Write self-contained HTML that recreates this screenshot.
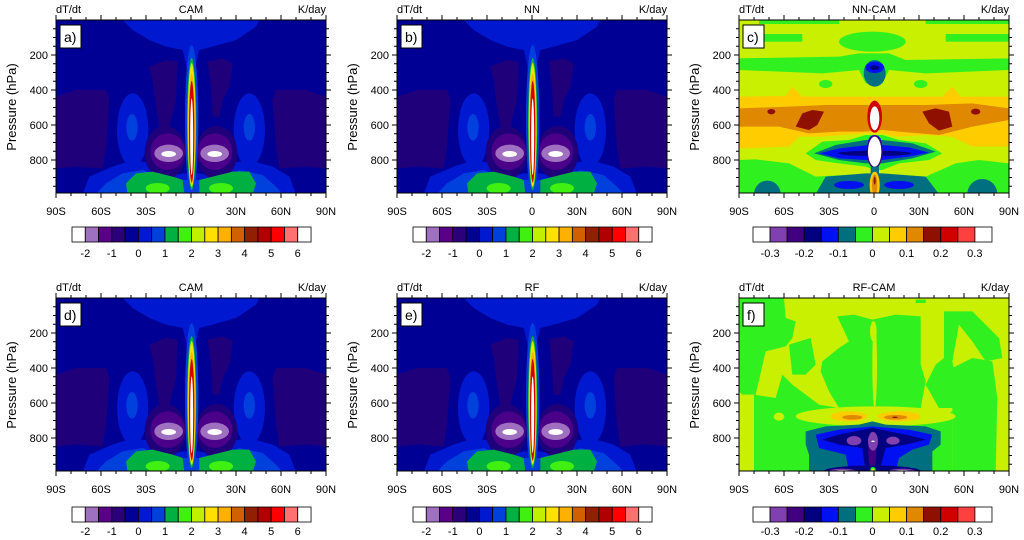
<!DOCTYPE html>
<html><head><meta charset="utf-8"><style>
html,body{margin:0;padding:0;background:#fff;}
svg{display:block;font-family:"Liberation Sans",sans-serif;}
</style></head><body>
<svg width="1024" height="540" viewBox="0 0 1024 540" xmlns="http://www.w3.org/2000/svg" xmlns:xlink="http://www.w3.org/1999/xlink">
<defs>
<clipPath id="cp"><rect x="0" y="0" width="810" height="519"/></clipPath>
<g id="cam" clip-path="url(#cp)">
 <rect x="0" y="0" width="810" height="522" fill="#000094"/>
 <path d="M200,0 L610,0 L600,20 L540,60 L470,80 L430,90 L420,130 L413,200 L397,200 L390,130 L380,90 L330,80 L280,60 L230,30Z" fill="#0018d0"/>
 <path d="M0,230 L60,210 L150,210 L160,240 L150,380 L140,445 L60,440 L0,445Z" fill="#20007a"/>
 <path d="M810,230 L750,210 L660,210 L650,240 L660,380 L670,445 L750,440 L810,445Z" fill="#20007a"/>
 <path d="M280,140 L330,120 L365,125 L360,240 L350,280 L340,320 L310,320 L300,260 L290,180Z" fill="#20007a"/>
 <path d="M455,125 L500,115 L530,130 L520,200 L500,240 L490,290 L470,290 L465,200Z" fill="#20007a"/>
 <ellipse cx="230" cy="330" rx="47" ry="110" fill="#0018d0"/>
 <ellipse cx="580" cy="330" rx="47" ry="110" fill="#0018d0"/>
 <ellipse cx="228" cy="322" rx="17" ry="40" fill="#0040dc"/>
 <ellipse cx="580" cy="322" rx="17" ry="40" fill="#0040dc"/>
 <path d="M80,522 L100,470 L170,440 L230,420 L290,430 L330,470 L380,460 L430,460 L480,470 L520,430 L580,420 L650,440 L700,470 L720,522Z" fill="#0018d0"/>
 <path d="M120,522 L150,490 L200,460 L260,450 L330,480 L380,480 L440,480 L480,480 L550,450 L620,465 L660,500 L680,522Z" fill="#0040dc"/>
 <ellipse cx="328" cy="398" rx="62" ry="80" fill="#20007a"/>
 <ellipse cx="482" cy="398" rx="62" ry="80" fill="#20007a"/>
 <ellipse cx="335" cy="395" rx="52" ry="55" fill="#4a0088"/>
 <ellipse cx="477" cy="395" rx="52" ry="55" fill="#4a0088"/>
 <ellipse cx="338" cy="400" rx="43" ry="26" fill="#a070c0"/>
 <ellipse cx="476" cy="400" rx="43" ry="26" fill="#a070c0"/>
 <ellipse cx="338" cy="402" rx="22" ry="9" fill="#fff"/>
 <ellipse cx="476" cy="402" rx="22" ry="9" fill="#fff"/>
 <path d="M210,490 L240,460 L290,455 L350,470 L380,480 L385,522 L215,522Z" fill="#00b040"/>
 <path d="M430,480 L470,470 L530,455 L580,455 L600,490 L590,522 L430,522Z" fill="#00b040"/>
 <ellipse cx="305" cy="505" rx="36" ry="16" fill="#40f010"/>
 <ellipse cx="495" cy="505" rx="36" ry="16" fill="#40f010"/>
 <ellipse cx="407" cy="300" rx="20" ry="225" fill="#0040dc"/>
 <ellipse cx="407" cy="312" rx="14" ry="198" fill="#00b040"/>
 <ellipse cx="407" cy="315" rx="12" ry="186" fill="#c0f000"/>
 <ellipse cx="407" cy="320" rx="10.5" ry="176" fill="#ffe000"/>
 <ellipse cx="407" cy="326" rx="9.5" ry="165" fill="#ffb000"/>
 <ellipse cx="407" cy="335" rx="8" ry="152" fill="#d00000"/>
 <ellipse cx="407" cy="350" rx="4.5" ry="115" fill="#fff"/>
</g>
<g id="nncam" clip-path="url(#cp)">
 <rect x="0" y="0" width="810" height="522" fill="#c8f000"/>
 <rect x="60" y="0" width="240" height="12" fill="#30f020"/>
 <rect x="560" y="0" width="250" height="12" fill="#30f020"/>
 <rect x="75" y="42" width="115" height="23" fill="#30f020"/>
 <rect x="620" y="42" width="190" height="23" fill="#30f020"/>
 <ellipse cx="400" cy="65" rx="100" ry="30" fill="#30f020"/>
 <path d="M0,115 L300,110 L360,100 L450,100 L500,120 L810,115 L810,150 L560,160 L450,150 L430,190 L380,190 L360,150 L250,160 L0,150Z" fill="#30f020"/>
 <ellipse cx="407" cy="160" rx="33" ry="40" fill="#007080"/>
 <ellipse cx="407" cy="142" rx="28" ry="17" fill="#0010f0"/>
 <ellipse cx="407" cy="143" rx="14" ry="7" fill="#000080"/>
 <ellipse cx="260" cy="192" rx="20" ry="12" fill="#30f020"/>
 <ellipse cx="545" cy="192" rx="20" ry="12" fill="#30f020"/>
 <path d="M0,230 L140,228 L160,200 L190,230 L390,230 L430,230 L610,230 L640,200 L665,230 L810,230 L810,380 L700,380 L640,350 L560,345 L470,350 L430,340 L380,340 L250,350 L180,350 L150,380 L0,385Z" fill="#ffcc00"/>
 <path d="M0,265 L150,260 L260,255 L390,255 L430,255 L560,255 L700,250 L810,265 L810,300 L700,320 L600,345 L480,335 L430,330 L380,335 L300,335 L210,340 L120,320 L0,320Z" fill="#e08800"/>
 <path d="M170,320 L190,280 L220,270 L255,275 L235,315 L210,330Z" fill="#901000"/>
 <path d="M550,275 L590,265 L630,275 L640,320 L600,332 L570,310Z" fill="#901000"/>
 <ellipse cx="97" cy="275" rx="12" ry="8" fill="#901000"/>
 <ellipse cx="710" cy="275" rx="14" ry="9" fill="#901000"/>
 <ellipse cx="407" cy="290" rx="22" ry="48" fill="#d00000"/>
 <ellipse cx="407" cy="295" rx="14" ry="36" fill="#fff"/>
 <path d="M200,400 L250,365 L330,360 L380,345 L430,345 L480,360 L560,370 L610,400 L570,420 L480,430 L430,450 L410,450 L380,440 L300,430 L230,420Z" fill="#30f020"/>
 <path d="M0,420 L50,418 L150,430 L230,470 L400,460 L560,470 L650,430 L720,420 L810,430 L810,522 L0,522Z" fill="#30f020"/>
 <path d="M225,400 L290,375 L380,360 L430,360 L520,370 L590,395 L520,415 L430,430 L380,430 L300,420Z" fill="#007080"/>
 <path d="M240,400 L300,385 L390,375 L430,375 L510,382 L570,398 L510,410 L430,420 L380,420 L300,415Z" fill="#0010f0"/>
 <ellipse cx="407" cy="400" rx="110" ry="8" fill="#000080"/>
 <ellipse cx="407" cy="365" rx="20" ry="20" fill="#0010f0"/>
 <ellipse cx="407" cy="395" rx="24" ry="50" fill="#400080"/>
 <ellipse cx="407" cy="395" rx="20" ry="45" fill="#fff"/>
 <rect x="395" y="440" width="25" height="30" fill="#007080"/>
 <path d="M230,522 L260,470 L380,460 L430,460 L560,470 L600,522Z" fill="#007080"/>
 <ellipse cx="330" cy="495" rx="45" ry="12" fill="#0010f0"/>
 <ellipse cx="480" cy="495" rx="45" ry="12" fill="#0010f0"/>
 <ellipse cx="85" cy="522" rx="40" ry="40" fill="#007080"/>
 <ellipse cx="730" cy="522" rx="45" ry="45" fill="#007080"/>
 <ellipse cx="407" cy="495" rx="15" ry="40" fill="#ffcc00"/>
 <ellipse cx="407" cy="495" rx="8" ry="32" fill="#e08800"/>
 <ellipse cx="407" cy="482" rx="3" ry="12" fill="#901000"/>
</g>
<g id="rfcam" clip-path="url(#cp)">
 <rect x="0" y="0" width="810" height="522" fill="#c8f000"/>
 <path d="M0,0 L135,0 L140,60 L170,70 L160,120 L140,145 L80,160 L50,290 L10,290 L0,280Z" fill="#30f020"/>
 <path d="M150,140 L215,120 L230,200 L200,230 L160,230Z" fill="#30f020"/>
 <path d="M45,290 L110,300 L130,230 L160,260 L200,290 L240,320 L300,330 L380,340 L470,340 L545,330 L560,365 L600,360 L640,340 L640,522 L45,522Z" fill="#30f020"/>
 <path d="M295,55 L345,50 L400,65 L470,50 L545,55 L545,200 L560,250 L545,330 L470,340 L420,330 L400,330 L380,335 L300,330 L270,280 L245,220 L250,190 L300,150 L330,130Z" fill="#30f020"/>
 <ellipse cx="407" cy="200" rx="7" ry="130" fill="#c8f000"/>
 <ellipse cx="403" cy="100" rx="10" ry="30" fill="#c8f000"/>
 <path d="M615,40 L700,40 L720,60 L780,120 L790,180 L740,190 L700,130 L660,80 L640,190 L650,240 L640,330 L600,330 L560,260 L590,200 L615,180Z" fill="#30f020"/>
 <path d="M640,210 L700,180 L760,190 L775,300 L770,522 L640,522Z" fill="#30f020"/>
 <rect x="530" y="5" width="30" height="10" fill="#30f020"/>
 <ellipse cx="410" cy="355" rx="240" ry="30" fill="#c8f000"/>
 <ellipse cx="120" cy="356" rx="16" ry="12" fill="#c8f000"/>
 <ellipse cx="330" cy="355" rx="55" ry="15" fill="#ffcc00"/>
 <ellipse cx="480" cy="355" rx="65" ry="15" fill="#ffcc00"/>
 <ellipse cx="340" cy="358" rx="30" ry="7" fill="#e08800"/>
 <ellipse cx="470" cy="358" rx="35" ry="7" fill="#e08800"/>
 <ellipse cx="468" cy="358" rx="8" ry="2" fill="#901000"/>
 <path d="M200,400 L260,385 L360,380 L400,370 L440,380 L560,385 L605,400 L605,440 L580,460 L580,522 L210,522 L210,470 L200,440Z" fill="#007080"/>
 <path d="M230,410 L300,395 L400,385 L510,395 L580,410 L570,440 L520,455 L480,480 L470,522 L330,522 L320,470 L240,450Z" fill="#0010f0"/>
 <path d="M250,425 L300,410 L400,390 L500,410 L560,425 L500,440 L440,450 L420,522 L380,522 L370,450 L300,440Z" fill="#000080"/>
 <ellipse cx="400" cy="460" rx="12" ry="60" fill="#400080"/>
 <ellipse cx="345" cy="428" rx="22" ry="14" fill="#8040b0"/>
 <ellipse cx="402" cy="430" rx="15" ry="28" fill="#8040b0"/>
 <ellipse cx="462" cy="428" rx="20" ry="12" fill="#8040b0"/>
 <ellipse cx="402" cy="430" rx="5" ry="2" fill="#fff"/>
 <ellipse cx="400" cy="522" rx="150" ry="20" fill="#000080"/>
 <ellipse cx="310" cy="520" rx="40" ry="8" fill="#8040b0"/>
 <ellipse cx="490" cy="520" rx="40" ry="8" fill="#8040b0"/>
 <ellipse cx="310" cy="520" rx="25" ry="4" fill="#fff"/>
 <ellipse cx="490" cy="520" rx="25" ry="4" fill="#fff"/>
 <ellipse cx="402" cy="515" rx="8" ry="8" fill="#30f020"/>
 <ellipse cx="402" cy="517" rx="4" ry="4" fill="#c8f000"/>
</g>
<g id="ax" fill="none" stroke="#000" stroke-width="1">
 <rect x="0" y="0" width="270" height="173"/>
 <path d="M0,173v5M45,173v5M90,173v5M135,173v5M180,173v5M225,173v5M270,173v5M15,173v3M30,173v3M60,173v3M75,173v3M105,173v3M120,173v3M150,173v3M165,173v3M195,173v3M210,173v3M240,173v3M255,173v3
 M0,0v-5M45,0v-5M90,0v-5M135,0v-5M180,0v-5M225,0v-5M270,0v-5M15,0v-3M30,0v-3M60,0v-3M75,0v-3M105,0v-3M120,0v-3M150,0v-3M165,0v-3M195,0v-3M210,0v-3M240,0v-3M255,0v-3
 M0,35h-5M0,70h-5M0,105h-5M0,140h-5M270,35h5M270,70h5M270,105h5M270,140h5
 M0,8.75h-3M0,17.5h-3M0,26.25h-3M0,43.75h-3M0,52.5h-3M0,61.25h-3M0,78.75h-3M0,87.5h-3M0,96.25h-3M0,113.75h-3M0,122.5h-3M0,131.25h-3M0,148.75h-3M0,157.5h-3M0,166.25h-3
 M270,8.75h3M270,17.5h3M270,26.25h3M270,43.75h3M270,52.5h3M270,61.25h3M270,78.75h3M270,87.5h3M270,96.25h3M270,113.75h3M270,122.5h3M270,131.25h3M270,148.75h3M270,157.5h3M270,166.25h3"/>
 <rect x="4" y="5" width="21" height="23" fill="#fff"/>
</g>
<g id="cb1" stroke="#000" stroke-width="0.8">
 <rect x="0" y="0" width="13.28" height="15" fill="#fff"/>
 <rect x="13.28" y="0" width="13.28" height="15" fill="#a070c0"/>
 <rect x="26.56" y="0" width="13.28" height="15" fill="#5a0088"/>
 <rect x="39.84" y="0" width="13.28" height="15" fill="#2c0078"/>
 <rect x="53.12" y="0" width="13.28" height="15" fill="#000094"/>
 <rect x="66.4" y="0" width="13.28" height="15" fill="#0018d0"/>
 <rect x="79.68" y="0" width="13.28" height="15" fill="#0040dc"/>
 <rect x="92.96" y="0" width="13.28" height="15" fill="#00b040"/>
 <rect x="106.24" y="0" width="13.28" height="15" fill="#40f010"/>
 <rect x="119.52" y="0" width="13.28" height="15" fill="#c0f000"/>
 <rect x="132.8" y="0" width="13.28" height="15" fill="#ffe000"/>
 <rect x="146.08" y="0" width="13.28" height="15" fill="#ffb000"/>
 <rect x="159.36" y="0" width="13.28" height="15" fill="#d06000"/>
 <rect x="172.64" y="0" width="13.28" height="15" fill="#902000"/>
 <rect x="185.92" y="0" width="13.28" height="15" fill="#b00000"/>
 <rect x="199.2" y="0" width="13.28" height="15" fill="#ff0000"/>
 <rect x="212.48" y="0" width="13.28" height="15" fill="#ff7070"/>
 <rect x="225.76" y="0" width="13.28" height="15" fill="#fff"/>
</g>
<g id="cb2" stroke="#000" stroke-width="0.8">
 <rect x="0" y="0" width="17.07" height="15" fill="#fff"/>
 <rect x="17.07" y="0" width="17.07" height="15" fill="#8040b0"/>
 <rect x="34.14" y="0" width="17.07" height="15" fill="#400080"/>
 <rect x="51.21" y="0" width="17.07" height="15" fill="#000080"/>
 <rect x="68.28" y="0" width="17.07" height="15" fill="#0010f0"/>
 <rect x="85.35" y="0" width="17.07" height="15" fill="#007080"/>
 <rect x="102.42" y="0" width="17.07" height="15" fill="#30f020"/>
 <rect x="119.49" y="0" width="17.07" height="15" fill="#c8f000"/>
 <rect x="136.56" y="0" width="17.07" height="15" fill="#ffcc00"/>
 <rect x="153.63" y="0" width="17.07" height="15" fill="#e08800"/>
 <rect x="170.7" y="0" width="17.07" height="15" fill="#901000"/>
 <rect x="187.77" y="0" width="17.07" height="15" fill="#d00000"/>
 <rect x="204.84" y="0" width="17.07" height="15" fill="#ff4040"/>
 <rect x="221.91" y="0" width="17.07" height="15" fill="#fff"/>
</g>
</defs>

<use xlink:href="#cam" transform="translate(56,20) scale(0.33333)"/>
<use xlink:href="#cam" transform="translate(397,20) scale(0.33333)"/>
<use xlink:href="#nncam" transform="translate(739,20) scale(0.33333)"/>
<use xlink:href="#cam" transform="translate(56,298) scale(0.33333)"/>
<use xlink:href="#cam" transform="translate(397,298) scale(0.33333)"/>
<use xlink:href="#rfcam" transform="translate(739,298) scale(0.33333)"/>

<use xlink:href="#ax" transform="translate(56,20)"/>
<use xlink:href="#ax" transform="translate(397,20)"/>
<use xlink:href="#ax" transform="translate(739,20)"/>
<use xlink:href="#ax" transform="translate(56,298)"/>
<use xlink:href="#ax" transform="translate(397,298)"/>
<use xlink:href="#ax" transform="translate(739,298)"/>

<use xlink:href="#cb1" transform="translate(72,227)"/>
<use xlink:href="#cb1" transform="translate(413,227)"/>
<use xlink:href="#cb2" transform="translate(753,227)"/>
<use xlink:href="#cb1" transform="translate(72,507)"/>
<use xlink:href="#cb1" transform="translate(413,507)"/>
<use xlink:href="#cb2" transform="translate(753,507)"/>

<g font-size="11" fill="#000">
<g transform="translate(56,20)">
 <text x="0" y="-7">dT/dt</text><text x="135" y="-7" text-anchor="middle">CAM</text><text x="270" y="-7" text-anchor="end">K/day</text>
 <text x="8" y="22" font-size="14">a)</text>
 <g text-anchor="end"><text x="-8" y="39">200</text><text x="-8" y="74">400</text><text x="-8" y="109">600</text><text x="-8" y="144">800</text></g>
 <text transform="translate(-40,87) rotate(-90)" text-anchor="middle" font-size="13">Pressure (hPa)</text>
 <g text-anchor="middle"><text x="0" y="195">90S</text><text x="45" y="195">60S</text><text x="90" y="195">30S</text><text x="135" y="195">0</text><text x="180" y="195">30N</text><text x="225" y="195">60N</text><text x="270" y="195">90N</text></g>
 <g text-anchor="middle"><text x="29.3" y="237">-2</text><text x="55.8" y="237">-1</text><text x="82.4" y="237">0</text><text x="109" y="237">1</text><text x="135.5" y="237">2</text><text x="162" y="237">3</text><text x="188.6" y="237">4</text><text x="215.2" y="237">5</text><text x="241.7" y="237">6</text></g>
</g>
<g transform="translate(397,20)">
 <text x="0" y="-7">dT/dt</text><text x="135" y="-7" text-anchor="middle">NN</text><text x="270" y="-7" text-anchor="end">K/day</text>
 <text x="8" y="22" font-size="14">b)</text>
 <g text-anchor="end"><text x="-8" y="39">200</text><text x="-8" y="74">400</text><text x="-8" y="109">600</text><text x="-8" y="144">800</text></g>
 <text transform="translate(-40,87) rotate(-90)" text-anchor="middle" font-size="13">Pressure (hPa)</text>
 <g text-anchor="middle"><text x="0" y="195">90S</text><text x="45" y="195">60S</text><text x="90" y="195">30S</text><text x="135" y="195">0</text><text x="180" y="195">30N</text><text x="225" y="195">60N</text><text x="270" y="195">90N</text></g>
 <g text-anchor="middle"><text x="29.3" y="237">-2</text><text x="55.8" y="237">-1</text><text x="82.4" y="237">0</text><text x="109" y="237">1</text><text x="135.5" y="237">2</text><text x="162" y="237">3</text><text x="188.6" y="237">4</text><text x="215.2" y="237">5</text><text x="241.7" y="237">6</text></g>
</g>
<g transform="translate(739,20)">
 <text x="0" y="-7">dT/dt</text><text x="135" y="-7" text-anchor="middle">NN-CAM</text><text x="270" y="-7" text-anchor="end">K/day</text>
 <text x="8" y="22" font-size="14">c)</text>
 <g text-anchor="end"><text x="-8" y="39">200</text><text x="-8" y="74">400</text><text x="-8" y="109">600</text><text x="-8" y="144">800</text></g>
 <text transform="translate(-40,87) rotate(-90)" text-anchor="middle" font-size="13">Pressure (hPa)</text>
 <g text-anchor="middle"><text x="0" y="195">90S</text><text x="45" y="195">60S</text><text x="90" y="195">30S</text><text x="135" y="195">0</text><text x="180" y="195">30N</text><text x="225" y="195">60N</text><text x="270" y="195">90N</text></g>
 <g text-anchor="middle"><text x="31.1" y="237">-0.3</text><text x="65.2" y="237">-0.2</text><text x="99.3" y="237">-0.1</text><text x="133.4" y="237">0</text><text x="167.6" y="237">0.1</text><text x="201.7" y="237">0.2</text><text x="235.8" y="237">0.3</text></g>
</g>
<g transform="translate(56,298)">
 <text x="0" y="-7">dT/dt</text><text x="135" y="-7" text-anchor="middle">CAM</text><text x="270" y="-7" text-anchor="end">K/day</text>
 <text x="8" y="22" font-size="14">d)</text>
 <g text-anchor="end"><text x="-8" y="39">200</text><text x="-8" y="74">400</text><text x="-8" y="109">600</text><text x="-8" y="144">800</text></g>
 <text transform="translate(-40,87) rotate(-90)" text-anchor="middle" font-size="13">Pressure (hPa)</text>
 <g text-anchor="middle"><text x="0" y="195">90S</text><text x="45" y="195">60S</text><text x="90" y="195">30S</text><text x="135" y="195">0</text><text x="180" y="195">30N</text><text x="225" y="195">60N</text><text x="270" y="195">90N</text></g>
 <g text-anchor="middle"><text x="29.3" y="237">-2</text><text x="55.8" y="237">-1</text><text x="82.4" y="237">0</text><text x="109" y="237">1</text><text x="135.5" y="237">2</text><text x="162" y="237">3</text><text x="188.6" y="237">4</text><text x="215.2" y="237">5</text><text x="241.7" y="237">6</text></g>
</g>
<g transform="translate(397,298)">
 <text x="0" y="-7">dT/dt</text><text x="135" y="-7" text-anchor="middle">RF</text><text x="270" y="-7" text-anchor="end">K/day</text>
 <text x="8" y="22" font-size="14">e)</text>
 <g text-anchor="end"><text x="-8" y="39">200</text><text x="-8" y="74">400</text><text x="-8" y="109">600</text><text x="-8" y="144">800</text></g>
 <text transform="translate(-40,87) rotate(-90)" text-anchor="middle" font-size="13">Pressure (hPa)</text>
 <g text-anchor="middle"><text x="0" y="195">90S</text><text x="45" y="195">60S</text><text x="90" y="195">30S</text><text x="135" y="195">0</text><text x="180" y="195">30N</text><text x="225" y="195">60N</text><text x="270" y="195">90N</text></g>
 <g text-anchor="middle"><text x="29.3" y="237">-2</text><text x="55.8" y="237">-1</text><text x="82.4" y="237">0</text><text x="109" y="237">1</text><text x="135.5" y="237">2</text><text x="162" y="237">3</text><text x="188.6" y="237">4</text><text x="215.2" y="237">5</text><text x="241.7" y="237">6</text></g>
</g>
<g transform="translate(739,298)">
 <text x="0" y="-7">dT/dt</text><text x="135" y="-7" text-anchor="middle">RF-CAM</text><text x="270" y="-7" text-anchor="end">K/day</text>
 <text x="8" y="22" font-size="14">f)</text>
 <g text-anchor="end"><text x="-8" y="39">200</text><text x="-8" y="74">400</text><text x="-8" y="109">600</text><text x="-8" y="144">800</text></g>
 <text transform="translate(-40,87) rotate(-90)" text-anchor="middle" font-size="13">Pressure (hPa)</text>
 <g text-anchor="middle"><text x="0" y="195">90S</text><text x="45" y="195">60S</text><text x="90" y="195">30S</text><text x="135" y="195">0</text><text x="180" y="195">30N</text><text x="225" y="195">60N</text><text x="270" y="195">90N</text></g>
 <g text-anchor="middle"><text x="31.1" y="237">-0.3</text><text x="65.2" y="237">-0.2</text><text x="99.3" y="237">-0.1</text><text x="133.4" y="237">0</text><text x="167.6" y="237">0.1</text><text x="201.7" y="237">0.2</text><text x="235.8" y="237">0.3</text></g>
</g>
</g>
</svg>
</body></html>
